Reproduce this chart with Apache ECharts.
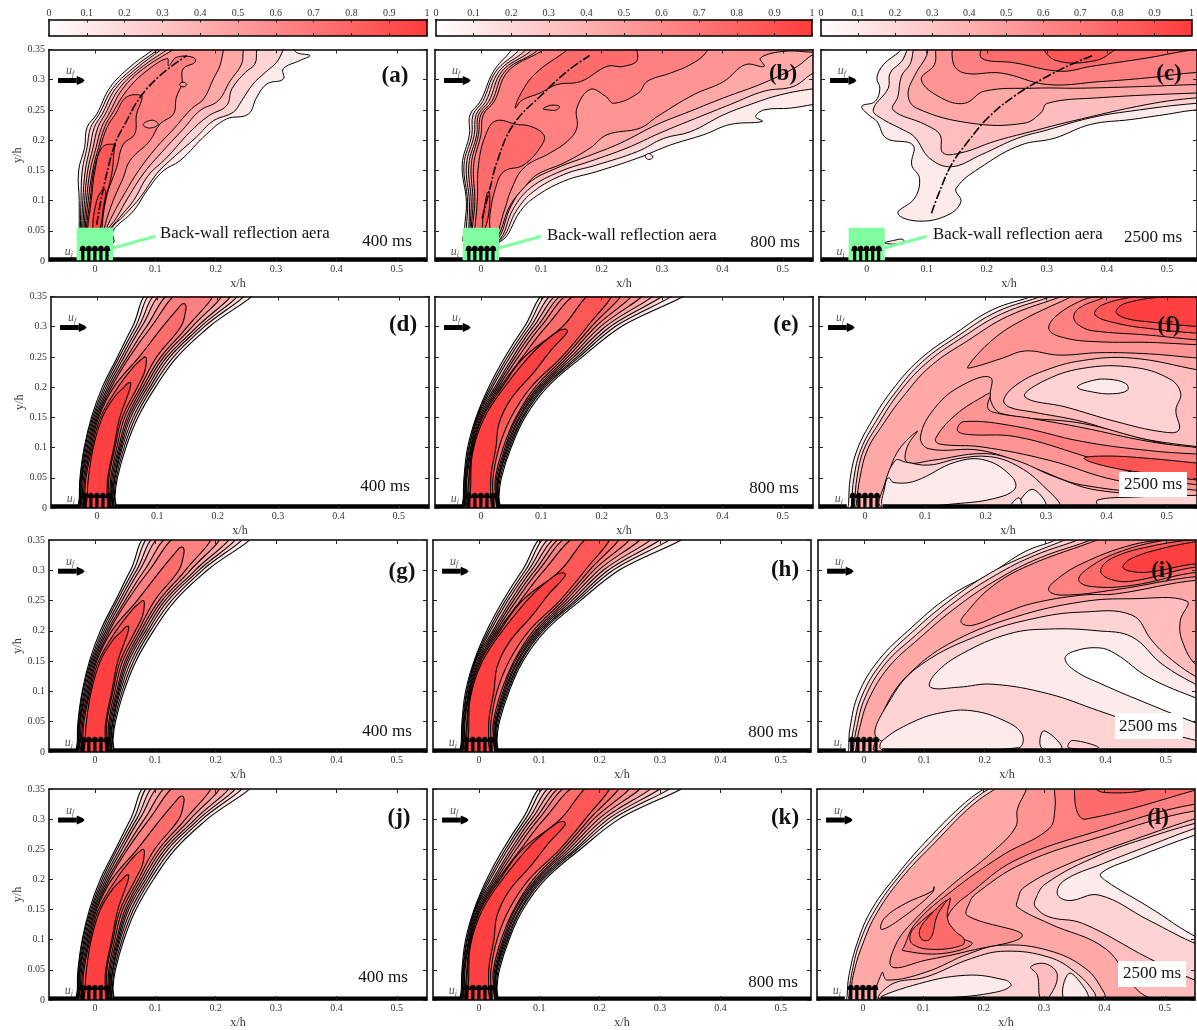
<!DOCTYPE html>
<html><head><meta charset="utf-8">
<style>html,body{margin:0;padding:0;background:#fff;overflow:hidden}#c{width:1197px;height:1030px}</style>
<script src="https://cdn.jsdelivr.net/npm/echarts@6/dist/echarts.min.js"></script>
</head><body><div id="c"></div>
<script>
// ---------- ticks ----------
const xTicks=[0,0.1,0.2,0.3,0.4,0.5];
const yTicks=[0,0.05,0.1,0.15,0.2,0.25,0.3,0.35];
const barTicks=[0,0.1,0.2,0.3,0.4,0.5,0.6,0.7,0.8,0.9,1];
const levelColors=['#ffffff','#fdeaea','#ffd3d3','#ffbdbd','#ffa8a8','#ff9494','#ff8080','#ff6c6c','#ff5656','#ff4040'];
const barStops=['#ffffff','#ff3c3c'];
// ---------- contours: [level, x,y, x,y ...] ----------
const contours400=[
[1,-.029,-.02,-.029,.02,-.028,.05,-.021,.1,-.009,.15,.009,.2,.034,.25,.059,.3,.092,.36,.258,.36,.186,.3,.133,.25,.097,.2,.068,.15,.048,.1,.034,.05,.030,.02,.030,-.02],
[2,-.028,-.02,-.028,.02,-.027,.05,-.020,.1,-.007,.15,.012,.2,.037,.25,.064,.3,.098,.36,.245,.36,.178,.3,.127,.25,.092,.2,.064,.15,.045,.1,.032,.05,.029,.02,.029,-.02],
[3,-.027,-.02,-.027,.02,-.026,.05,-.018,.1,-.005,.15,.015,.2,.041,.25,.069,.3,.107,.36,.234,.36,.172,.3,.121,.25,.088,.2,.060,.15,.042,.1,.030,.05,.027,.02,.027,-.02],
[4,-.026,-.02,-.026,.02,-.025,.05,-.016,.1,-.003,.15,.018,.2,.045,.25,.074,.3,.116,.36,.223,.36,.166,.3,.116,.25,.084,.2,.056,.15,.040,.1,.029,.05,.026,.02,.026,-.02],
[5,-.025,-.02,-.025,.02,-.024,.05,-.014,.1,-.001,.15,.021,.2,.050,.25,.082,.3,.128,.36,.208,.36,.158,.3,.111,.25,.080,.2,.053,.15,.038,.1,.027,.05,.025,.02,.025,-.02],
[6,-.024,-.02,-.024,.02,-.022,.05,-.012,.1,.001,.15,.024,.2,.054,.25,.090,.3,.140,.36,.194,.36,.150,.3,.106,.25,.076,.2,.050,.15,.036,.1,.025,.05,.024,.02,.024,-.02],
[7,-.022,-.02,-.022,.02,-.020,.05,-.010,.1,.003,.15,.028,.2,.070,.25,.109,.3,.134,.33,.142,.338,.147,.336,.147,.326,.139,.3,.099,.25,.072,.2,.046,.15,.033,.1,.023,.05,.022,.02,.022,-.02],
[8,-.020,-.02,-.020,.02,-.018,.05,-.008,.1,.006,.15,.035,.2,.062,.235,.075,.247,.080,.25,.082,.245,.079,.225,.067,.2,.042,.15,.030,.1,.020,.05,.020,.02,.020,-.02],
[9,-.016,-.02,-.016,.02,-.014,.05,-.006,.1,.009,.15,.030,.185,.045,.2,.052,.207,.056,.207,.054,.195,.038,.15,.028,.1,.018,.05,.017,.02,.017,-.02]
];
const contours800=[
[1,-.029,-.02,-.029,.02,-.028,.05,-.022,.1,-.008,.15,.013,.2,.040,.25,.072,.3,.116,.36,.340,.36,.232,.3,.168,.25,.110,.2,.073,.15,.050,.1,.034,.05,.030,.02,.030,-.02],
[2,-.028,-.02,-.028,.02,-.027,.05,-.020,.1,-.007,.15,.016,.2,.044,.25,.077,.3,.122,.36,.320,.36,.222,.3,.163,.25,.106,.2,.070,.15,.048,.1,.032,.05,.029,.02,.029,-.02],
[3,-.027,-.02,-.027,.02,-.026,.05,-.019,.1,-.006,.15,.019,.2,.048,.25,.082,.3,.131,.36,.304,.36,.214,.3,.159,.25,.103,.2,.068,.15,.046,.1,.030,.05,.028,.02,.028,-.02],
[4,-.026,-.02,-.026,.02,-.025,.05,-.017,.1,-.005,.15,.023,.2,.053,.25,.087,.3,.140,.36,.288,.36,.206,.3,.154,.25,.100,.2,.065,.15,.044,.1,.029,.05,.027,.02,.027,-.02],
[5,-.025,-.02,-.025,.02,-.024,.05,-.016,.1,-.003,.15,.026,.2,.057,.25,.093,.3,.148,.36,.270,.36,.198,.3,.149,.25,.097,.2,.063,.15,.042,.1,.028,.05,.026,.02,.026,-.02],
[6,-.024,-.02,-.024,.02,-.023,.05,-.015,.1,-.001,.15,.029,.2,.062,.25,.099,.3,.156,.36,.252,.36,.190,.3,.144,.25,.094,.2,.060,.15,.040,.1,.026,.05,.025,.02,.025,-.02],
[7,-.022,-.02,-.022,.02,-.020,.05,-.014,.1,.001,.15,.032,.2,.069,.25,.108,.3,.168,.36,.234,.36,.183,.3,.139,.25,.090,.2,.058,.15,.037,.1,.024,.05,.024,.02,.024,-.02],
[8,-.020,-.02,-.020,.02,-.019,.05,-.013,.1,.003,.15,.035,.2,.072,.25,.135,.3,.186,.36,.220,.36,.176,.3,.134,.25,.083,.2,.050,.15,.030,.1,.020,.05,.020,.02,.020,-.02],
[9,-.018,-.02,-.018,.02,-.017,.035,-.014,.09,.005,.148,.039,.2,.088,.259,.127,.292,.140,.296,.143,.291,.116,.261,.088,.225,.050,.181,.030,.14,.025,.101,.017,.057,.016,.02,.016,-.02]
];
const contoursA=[
[1,-.026,.03,-.026,.055,-.026,.1,-.027,.149,-.017,.188,-.013,.221,.003,.243,.025,.287,.058,.321,.094,.348,.11,.36,.32,.36,.334,.345,.356,.34,.34,.332,.312,.318,.312,.301,.285,.293,.268,.271,.254,.243,.218,.235,.185,.21,.141,.166,.113,.149,.086,.116,.064,.083,.03,.05,.03,.03],
[2,-.024,.03,-.024,.055,-.023,.1,-.021,.149,-.013,.188,-.007,.221,.007,.243,.029,.285,.062,.318,.102,.348,.12,.36,.315,.36,.312,.35,.301,.329,.282,.312,.262,.293,.243,.265,.229,.246,.196,.232,.168,.205,.124,.166,.102,.144,.075,.105,.05,.077,.025,.05,.025,.03],
[3,-.022,.03,-.022,.055,-.02,.1,-.016,.149,-.008,.188,-.001,.221,.012,.243,.034,.285,.068,.318,.11,.35,.125,.36,.27,.36,.268,.35,.265,.326,.249,.312,.227,.285,.218,.257,.188,.24,.157,.213,.119,.171,.088,.141,.064,.1,.041,.072,.022,.047,.022,.03],
[4,-.02,.03,-.02,.055,-.017,.1,-.012,.149,-.003,.188,.005,.221,.017,.243,.04,.285,.074,.318,.12,.35,.135,.36,.25,.36,.246,.35,.243,.326,.224,.298,.204,.265,.174,.249,.146,.218,.108,.177,.08,.144,.055,.105,.036,.072,.019,.047,.019,.03],
[5,-.018,.03,-.018,.055,-.014,.1,-.008,.149,.002,.188,.011,.221,.023,.243,.046,.285,.08,.318,.13,.35,.145,.36,.215,.36,.213,.35,.207,.323,.196,.301,.18,.268,.16,.252,.13,.218,.102,.188,.072,.149,.05,.113,.03,.077,.017,.047,.017,.03],
[6,-.016,.03,-.016,.055,-.011,.1,-.004,.149,.006,.188,.016,.221,.028,.243,.055,.285,.09,.318,.12,.335,.122,.323,.135,.337,.163,.337,.166,.329,.146,.318,.144,.293,.135,.271,.13,.243,.108,.227,.091,.199,.058,.166,.047,.138,.028,.094,.014,.047,.014,.03],
[7,-.014,.03,-.014,.055,-.008,.1,-.002,.149,.009,.188,.02,.221,.034,.243,.052,.271,.077,.274,.077,.265,.069,.243,.066,.21,.047,.193,.036,.155,.019,.105,.011,.047,.011,.03],
[8,-.012,.03,-.012,.055,-.006,.1,0,.149,.012,.188,.033,.193,.032,.185,.028,.144,.017,.1,.008,.047,.008,.03],
[9,-.003,.05,.003,.1,.014,.119,.018,.116,.014,.088,.007,.05],
[5,.08,.226,.09,.22,.105,.226,.095,.233],
[5,.14,.292,.146,.288,.152,.292,.146,.296]
];
const contoursB=[
[1,-.027,.03,-.027,.054,-.024,.098,-.031,.159,-.019,.209,-.018,.242,-.001,.264,.021,.314,.049,.347,.057,.36,.565,.36,.565,.26,.551,.259,.513,.253,.469,.25,.455,.239,.466,.231,.413,.226,.369,.209,.314,.192,.259,.17,.192,.148,.137,.132,.087,.104,.065,.082,.032,.032],
[2,-.024,.03,-.024,.054,-.022,.098,-.028,.159,-.015,.209,-.013,.242,.003,.264,.025,.314,.061,.347,.068,.36,.565,.36,.565,.284,.551,.285,.496,.275,.446,.259,.402,.242,.347,.214,.303,.203,.259,.181,.192,.159,.137,.143,.087,.115,.06,.085,.029,.032],
[3,-.021,.03,-.02,.054,-.019,.098,-.024,.159,-.011,.209,-.008,.242,.008,.264,.03,.314,.072,.347,.08,.36,.565,.36,.565,.31,.551,.311,.518,.289,.469,.281,.413,.259,.358,.237,.297,.212,.242,.187,.181,.165,.131,.148,.082,.121,.054,.087,.027,.032],
[4,-.018,.03,-.018,.054,-.016,.098,-.02,.159,-.007,.209,-.004,.242,.013,.264,.035,.314,.082,.347,.09,.36,.565,.36,.565,.34,.551,.342,.524,.322,.469,.295,.402,.27,.347,.248,.292,.226,.231,.195,.176,.173,.126,.154,.079,.129,.051,.093,.024,.032],
[5,-.016,.03,-.016,.054,-.013,.098,-.016,.159,-.004,.209,0,.242,.018,.264,.04,.314,.092,.347,.1,.36,.565,.36,.565,.347,.502,.347,.463,.336,.469,.322,.438,.325,.402,.297,.352,.275,.292,.239,.264,.22,.209,.209,.181,.187,.137,.162,.093,.143,.073,.123,.049,.093,.021,.032],
[6,-.014,.03,-.014,.054,-.01,.098,-.012,.159,0,.209,.004,.242,.022,.264,.045,.314,.1,.347,.12,.36,.375,.36,.372,.344,.347,.325,.314,.311,.275,.297,.261,.278,.22,.261,.206,.273,.181,.284,.159,.253,.159,.22,.143,.198,.115,.179,.071,.154,.049,.115,.04,.087,.018,.032],
[7,.057,.253,.065,.275,.09,.31,.14,.347,.155,.36,.248,.36,.259,.333,.236,.322,.209,.322,.165,.297,.126,.292,.098,.278,.068,.266],
[7,-.012,.03,-.01,.054,-.006,.098,-.004,.159,.008,.209,.025,.232,.06,.226,.082,.223,.104,.209,.101,.192,.071,.159,.038,.148,.024,.12,.015,.076,.012,.03],
[8,.002,.054,.01,.112,.014,.115,.014,.087,.007,.054],
[1,.272,.173,.278,.178,.285,.172,.278,.168],
[6,.103,.252,.113,.257,.12,.258,.13,.256,.125,.25,.112,.25]
];
const contoursC=[
[1,.064,.36,.055,.347,.028,.325,.017,.303,.022,.286,.014,.264,-.008,.256,.003,.242,.017,.231,.033,.203,.077,.192,.075,.159,.088,.137,.08,.104,.052,.079,.086,.066,.135,.076,.157,.098,.149,.12,.196,.159,.257,.192,.312,.203,.373,.226,.439,.234,.495,.242,.55,.25,.6,.25,.6,.36],
[2,.08,.36,.058,.33,.039,.311,.036,.286,.011,.25,.028,.234,.061,.217,.08,.205,.105,.17,.141,.156,.191,.176,.251,.203,.301,.217,.373,.237,.439,.248,.55,.261,.6,.261,.6,.36],
[3,.088,.36,.072,.325,.058,.306,.052,.272,.044,.25,.097,.226,.122,.209,.127,.179,.157,.179,.213,.198,.273,.214,.34,.231,.467,.259,.55,.27,.6,.27,.6,.36],
[4,.105,.36,.1,.34,.08,.307,.069,.275,.083,.253,.174,.228,.262,.228,.29,.245,.301,.261,.384,.27,.55,.278,.6,.278,.6,.36],
[5,.122,.36,.113,.325,.091,.3,.124,.27,.163,.261,.196,.281,.279,.286,.356,.286,.467,.289,.55,.292,.6,.292,.6,.36],
[6,.152,.36,.144,.328,.163,.311,.224,.311,.301,.292,.39,.297,.467,.303,.55,.312,.6,.312,.6,.36],
[7,.202,.36,.191,.336,.246,.328,.323,.314,.373,.322,.467,.336,.55,.35,.6,.35,.6,.36],
[8,.296,.36,.312,.333,.378,.331,.414,.35,.42,.36],
[1,.03,.03,.045,.034,.06,.036,.062,.031,.045,.028]
];
const contoursF=[
[1,-.027,-.01,-.027,.007,-.024,.051,-.013,.096,.012,.145,.045,.195,.09,.245,.15,.289,.211,.328,.283,.353,.31,.37,.6,.37,.6,-.01],
[2,-.022,-.01,-.022,.007,-.018,.051,-.007,.096,.018,.143,.051,.192,.095,.242,.156,.286,.219,.325,.299,.353,.33,.37,.6,.37,.6,-.01],
[3,-.017,-.01,-.017,.007,-.013,.051,-.002,.096,.023,.14,.056,.19,.101,.239,.164,.284,.228,.322,.316,.353,.35,.37,.6,.37,.6,-.01],
[4,-.014,-.01,-.014,.007,-.008,.051,.004,.096,.029,.137,.063,.184,.109,.235,.172,.278,.236,.317,.333,.353,.37,.37,.6,.37,.6,-.01],
[5,.17,.233,.211,.278,.261,.311,.349,.353,.38,.37,.6,.37,.6,.246,.554,.248,.471,.255,.388,.257,.322,.253,.266,.26,.228,.248,.183,.234],
[6,.305,.295,.316,.317,.36,.344,.393,.353,.42,.37,.6,.37,.6,.268,.554,.27,.471,.274,.388,.275,.333,.281],
[7,.346,.314,.355,.331,.399,.35,.43,.37,.6,.37,.6,.277,.554,.278,.471,.286,.388,.292,.362,.298],
[8,.381,.32,.393,.336,.454,.353,.49,.37,.6,.37,.6,.288,.554,.289,.471,.297,.416,.306],
[9,.416,.325,.432,.339,.504,.35,.6,.352,.6,.298,.554,.3,.471,.308,.432,.314],
[3,.23,.179,.25,.203,.294,.226,.36,.244,.443,.248,.554,.228,.6,.22,.6,.098,.554,.101,.443,.118,.36,.143,.277,.159,.239,.167],
[2,.265,.184,.294,.209,.36,.231,.443,.233,.504,.214,.523,.19,.515,.162,.52,.129,.493,.126,.416,.143,.333,.167],
[1,.352,.2,.377,.211,.404,.213,.432,.206,.435,.195,.41,.189,.377,.192],
[4,.208,.216,.161,.203,.117,.167,.092,.118,.106,.098,.194,.095,.283,.065,.36,.038,.554,.018,.6,.015,.6,.094,.554,.096,.471,.112,.36,.14,.227,.156,.208,.179],
[5,.117,.115,.15,.154,.2,.187,.208,.189,.203,.168,.211,.159,.277,.148,.36,.133,.471,.11,.554,.1,.6,.098,.6,.027,.554,.029,.416,.046,.305,.079,.194,.101,.123,.106],
[6,.153,.129,.164,.143,.25,.135,.36,.11,.471,.095,.554,.089,.6,.087,.6,.036,.554,.038,.471,.051,.36,.087,.25,.118,.167,.122],
[8,.363,.082,.399,.086,.471,.082,.554,.074,.6,.07,.6,.044,.554,.046,.471,.057,.404,.068],
[3,.026,-.004,.026,.013,.037,.051,.056,.096,.087,.127,.07,.101,.07,.076,.112,.079,.194,.09,.25,.079,.316,.051,.388,.029,.554,.018,.6,.016,.6,-.004],
[2,.029,.002,.033,.04,.051,.079,.067,.076,.106,.071,.156,.082,.206,.085,.25,.071,.294,.038,.319,.002],
[1,.031,.002,.033,.035,.039,.05,.048,.042,.084,.045,.15,.076,.2,.079,.244,.051,.248,.031,.211,.015,.15,.007,.084,.002],
[1,.255,.002,.277,.031,.3,.002],
[1,.241,.002,.255,.017,.259,.002],
[2,.385,.013,.443,.018,.554,.021,.6,.021,.6,.002,.39,.002]
];
const contoursI=[
[1,-.025,-.01,-.025,.007,-.023,.04,-.009,.096,.024,.151,.074,.201,.14,.256,.21,.295,.267,.331,.317,.35,.35,.37,.6,.37,.6,-.01],
[2,-.021,-.01,-.021,.007,-.017,.04,-.003,.093,.03,.148,.08,.198,.146,.253,.212,.297,.278,.328,.339,.353,.37,.37,.6,.37,.6,-.01],
[3,-.017,-.01,-.017,.007,-.012,.04,.002,.09,.035,.145,.085,.192,.151,.248,.218,.292,.284,.325,.361,.353,.39,.37,.6,.37,.6,-.01],
[4,-.013,-.01,-.013,.007,-.007,.04,.008,.087,.041,.14,.091,.187,.157,.242,.223,.286,.29,.32,.383,.353,.41,.37,.6,.37,.6,-.01],
[5,.161,.214,.168,.228,.212,.273,.273,.308,.394,.353,.43,.37,.6,.37,.6,.278,.555,.284,.417,.261,.361,.259,.278,.245,.229,.228,.179,.209],
[6,.306,.267,.317,.283,.361,.311,.444,.342,.516,.353,.6,.37,.6,.285,.555,.29,.417,.268,.328,.259],
[7,.356,.283,.367,.3,.417,.328,.5,.35,.6,.36,.6,.29,.555,.297,.444,.275,.378,.273],
[8,.392,.3,.411,.32,.472,.339,.555,.352,.6,.355,.6,.3,.555,.306,.444,.282,.406,.286],
[9,.429,.306,.444,.32,.494,.336,.555,.348,.6,.352,.6,.305,.555,.311,.472,.297,.439,.299],
[3,.022,.024,.038,.079,.08,.134,.151,.184,.251,.223,.361,.248,.444,.253,.535,.249,.524,.217,.527,.184,.552,.142,.6,.12,.6,.0015,.555,.0015,.019,.002],
[2,.024,.021,.046,.09,.096,.145,.196,.195,.28,.22,.361,.231,.444,.226,.477,.184,.505,.156,.552,.123,.6,.1,.6,.002,.19,.002],
[1,.11,.107,.118,.129,.162,.162,.24,.195,.306,.203,.388,.2,.444,.19,.494,.145,.555,.109,.6,.09,.6,.01,.555,.018,.472,.04,.389,.068,.306,.096,.212,.112,.157,.107],
[0,.333,.154,.347,.166,.389,.172,.417,.162,.472,.123,.555,.087,.6,.07,.6,.03,.555,.046,.472,.079,.394,.112,.35,.134],
[1,.03,.018,.08,.049,.129,.065,.179,.068,.234,.051,.262,.029,.256,.007,.03,.004],
[1,.294,.007,.298,.035,.328,.007],
[2,.339,.007,.345,.019,.389,.007]
];
const contoursL=[
[1,-.026,-.01,-.026,.008,-.023,.041,-.009,.096,.015,.151,.06,.212,.109,.268,.17,.328,.209,.356,.23,.37,.6,.37,.6,-.01],
[2,-.023,-.01,-.023,.008,-.019,.041,-.006,.093,.02,.149,.064,.21,.115,.265,.176,.326,.217,.356,.24,.37,.6,.37,.6,-.01],
[4,-.02,-.01,-.02,.008,-.016,.041,-.001,.091,.024,.146,.068,.207,.12,.262,.181,.323,.228,.356,.25,.37,.6,.37,.6,-.01],
[4,.031,.117,.035,.135,.07,.16,.114,.18,.118,.188,.115,.178,.07,.14],
[5,.272,.37,.272,.353,.256,.317,.253,.287,.214,.245,.143,.187,.082,.129,.054,.091,.048,.055,.104,.066,.17,.08,.264,.107,.173,.14,.176,.16,.187,.176,.264,.226,.391,.27,.557,.315,.6,.305,.6,.37],
[6,.317,.37,.317,.353,.318,.317,.308,.284,.231,.24,.145,.179,.087,.127,.068,.088,.066,.082,.131,.077,.181,.093,.154,.107,.14,.129,.148,.151,.176,.176,.253,.232,.391,.281,.557,.326,.6,.315,.6,.37],
[7,.145,.169,.14,.135,.154,.113,.167,.102,.165,.091,.115,.084,.082,.093,.079,.11,.093,.127,.143,.168],
[8,.138,.165,.123,.14,.112,.102,.098,.1,.094,.116,.109,.138],
[7,.35,.37,.35,.353,.355,.312,.369,.3,.557,.35,.6,.365,.6,.37],
[8,.383,.37,.383,.353,.402,.344,.474,.35,.5,.37],
[3,.256,.165,.267,.187,.341,.226,.446,.265,.557,.303,.6,.315,.6,.002,.485,.002,.452,.019,.402,.085,.308,.127,.256,.154],
[2,.285,.165,.303,.193,.391,.24,.474,.27,.557,.295,.6,.305,.6,.018,.557,.03,.474,.069,.364,.127,.308,.138,.286,.154],
[1,.322,.176,.333,.198,.397,.226,.474,.256,.557,.287,.6,.298,.6,.08,.557,.091,.474,.132,.391,.174,.341,.165],
[0,.394,.21,.446,.234,.557,.276,.6,.287,.6,.09,.557,.102,.474,.154,.402,.198],
[3,.027,.002,.032,.046,.04,.033,.104,.046,.176,.077,.231,.091,.308,.082,.369,.052,.399,.013,.399,.002],
[2,.029,.002,.049,.027,.104,.038,.18,.069,.236,.081,.308,.071,.352,.046,.383,.013,.383,.002],
[1,.029,.002,.082,.024,.17,.041,.236,.033,.245,.024,.22,.013,.143,.004],
[3,.278,.055,.303,.06,.322,.041,.306,.002,.294,.002,.289,.041],
[1,.333,.002,.341,.044,.364,.024,.372,.002]
];
// ---------- dash-dot trajectories of panels a, b, c ----------
const trajA=[[.003,.06],[.014,.12],[.033,.193],[.05,.227],[.075,.271],[.108,.307],[.152,.34]];
const trajB=[[.002,.07],[.015,.12],[.027,.165],[.054,.226],[.104,.278],[.143,.314],[.18,.34]];
const trajC=[[.108,.079],[.119,.109],[.141,.159],[.169,.198],[.202,.237],[.246,.273],[.296,.303],[.34,.325],[.376,.34]];
// ---------- apparatus ----------
const nozzleX=[-.02,-.01,0,.01,.02];
const floorSpans=[[-.076,-.03],[.03,.55]];

const SERIF='"Liberation Serif","Times New Roman",serif';
const panels=[
 {c:contoursA,t:trajA,left:49,top:49.5,h:211.5,wall:1,ylab:1},
 {c:contoursB,t:trajB,left:435,top:49.5,h:211.5,wall:1},
 {c:contoursC,t:trajC,left:821,top:49.5,h:211.5,wall:1},
 {c:contours400,jet:1,left:51,top:296.5,h:211.5,ylab:1},
 {c:contours800,jet:1,left:435,top:296.5,h:211.5},
 {c:contoursF,left:819,top:296.5,h:211.5},
 {c:contours400,jet:1,left:49,top:540,h:212,ylab:1},
 {c:contours800,jet:1,left:433,top:540,h:212},
 {c:contoursI,left:818,top:540,h:212},
 {c:contours400,jet:1,left:49,top:789,h:211,ylab:1},
 {c:contours800,jet:1,left:433,top:789,h:211},
 {c:contoursL,left:817,top:789,h:211}
];
const pW=378;
const grid=[],xAxis=[],yAxis=[],series=[];
const axisText={color:'#333',fontFamily:SERIF,fontSize:10};

function toPts(flat,coord){const p=[];for(let i=1;i<flat.length;i+=2)p.push(coord([flat[i],flat[i+1]]));return p;}

panels.forEach((P,i)=>{
 grid.push({left:P.left,top:P.top,width:pW,height:P.h});
 const base={min:-.076,max:.55,type:'value',gridIndex:i,z:6,splitLine:{show:false}};
 const line={show:true,onZero:false,lineStyle:{color:'#000',width:1.5}};
 const xi=xAxis.length,yi=yAxis.length;
 xAxis.push({...base,position:'bottom',axisLine:line,
  axisTick:{inside:true,length:4,customValues:xTicks,lineStyle:{color:'#222'}},
  axisLabel:{...axisText,margin:3,customValues:xTicks,formatter:v=>String(v)},
  name:'x/h',nameLocation:'middle',nameGap:17,nameTextStyle:{color:'#333',fontFamily:SERIF,fontSize:12}});
 xAxis.push({...base,position:'top',axisLine:line,axisLabel:{show:false},
  axisTick:{inside:true,length:4,customValues:xTicks,lineStyle:{color:'#222'}}});
 const yb={min:0,max:.35,type:'value',gridIndex:i,z:6,splitLine:{show:false}};
 yAxis.push({...yb,position:'left',axisLine:line,
  axisTick:{inside:true,length:4,customValues:yTicks,lineStyle:{color:'#222'}},
  axisLabel:{...axisText,show:!!P.ylab,margin:4,customValues:yTicks,formatter:v=>String(v)},
  name:P.ylab?'y/h':'',nameLocation:'middle',nameGap:24,nameTextStyle:{color:'#333',fontFamily:SERIF,fontSize:12}});
 yAxis.push({...yb,position:'right',axisLine:line,axisLabel:{show:false},
  axisTick:{inside:true,length:4,customValues:yTicks,lineStyle:{color:'#222'}}});
 series.push({type:'custom',xAxisIndex:xi,yAxisIndex:yi,clip:true,z:2,silent:true,
  data:P.c.map(f=>[f[1],f[2]]),encode:{x:0,y:1},
  renderItem:(params,api)=>{const f=P.c[params.dataIndex];
   return {type:'polygon',shape:{points:toPts(f,api.coord),smooth:.4},
    style:{fill:levelColors[f[0]],stroke:'#000',lineWidth:P.jet?1.1:1}};}});
 if(P.t)series.push({type:'line',xAxisIndex:xi,yAxisIndex:yi,z:3,silent:true,data:P.t,showSymbol:false,smooth:.4,
   lineStyle:{color:'#000',width:1.6,type:[9,2,2,2]}});
 series.push({type:'custom',xAxisIndex:xi,yAxisIndex:yi,z:4,silent:true,clip:true,data:[[0,0]],encode:{x:0,y:1},
  renderItem:(params,api)=>{
   const c=api.coord,ch=[];
   const rect=(x0,y0,x1,y1,fill)=>{const a=c([x0,y1]),b=c([x1,y0]);
     ch.push({type:'rect',shape:{x:a[0],y:a[1],width:b[0]-a[0],height:b[1]-a[1]},style:{fill}});};
   floorSpans.forEach(s=>rect(s[0],0,s[1],.006,'#000'));
   if(P.wall){
     rect(-.03,0,.03,.055,'#7fff9f');
     const a=c([.03,.0215]),b=c([.1,.041]);
     ch.push({type:'line',shape:{x1:a[0],y1:a[1],x2:b[0],y2:b[1]},style:{stroke:'#7fff9f',lineWidth:3}});
   }
   nozzleX.forEach(x=>{
     const a=c([x,0]),t=c([x,.0255]),m=c([x,.019]);
     ch.push({type:'rect',shape:{x:a[0]-1.6,y:m[1],width:3.2,height:a[1]-m[1]},style:{fill:'#000'}});
     ch.push({type:'polygon',shape:{points:[[a[0]-3.4,m[1]+1.5],[a[0]-2.4,t[1]+1.2],[a[0],t[1]],[a[0]+2.4,t[1]+1.2],[a[0]+3.4,m[1]+1.5]]},style:{fill:'#000'}});
   });
   const u0=c([-.061,.2985]),u1=c([-.03,.2985]),tip=c([-.017,.2985]);
   ch.push({type:'rect',shape:{x:u0[0],y:u0[1]-2.5,width:u1[0]-u0[0],height:5},style:{fill:'#000'}});
   ch.push({type:'polygon',shape:{points:[[u1[0],u0[1]-4.5],[tip[0]-2,u0[1]-2],[tip[0],u0[1]],[tip[0]-2,u0[1]+2],[u1[0],u0[1]+4.5]]},style:{fill:'#000'}});
   const uf=c([-.048,.314]),ui=c([-.05,.015]);
   const label=(pos,s,sub)=>{
     ch.push({type:'text',style:{text:s,x:pos[0],y:pos[1],fill:'#555',font:'italic 12px '+SERIF,textAlign:'left',textVerticalAlign:'middle'}});
     ch.push({type:'text',style:{text:sub,x:pos[0]+6,y:pos[1]+2.5,fill:'#555',font:'italic 8px '+SERIF,textAlign:'left',textVerticalAlign:'middle'}});
   };
   label(uf,'u','f');label(ui,'u','i');
   return {type:'group',children:ch};
  }});
});

// colour bars
[[49,378],[436,376],[821,378]].forEach(b=>{
 const gi=grid.length;
 grid.push({left:b[0],top:19.5,width:b[1],height:16.5});
 const base={type:'value',min:0,max:1,gridIndex:gi,z:6,splitLine:{show:false}};
 const line={show:true,onZero:false,lineStyle:{color:'#000',width:1.5}};
 const xi=xAxis.length,yi=yAxis.length;
 xAxis.push({...base,position:'top',axisLine:line,axisTick:{inside:true,length:3,customValues:barTicks,lineStyle:{color:'#222'}},
   axisLabel:{...axisText,margin:1,customValues:barTicks,formatter:v=>String(v)}});
 xAxis.push({...base,position:'bottom',axisLine:line,axisLabel:{show:false},axisTick:{inside:true,length:3,customValues:barTicks,lineStyle:{color:'#222'}}});
 yAxis.push({...base,position:'left',axisLine:line,axisTick:{show:false},axisLabel:{show:false}});
 yAxis.push({...base,position:'right',axisLine:line,axisTick:{show:false},axisLabel:{show:false}});
 series.push({type:'custom',xAxisIndex:xi,yAxisIndex:yi,z:2,silent:true,data:[[0,0]],encode:{x:0,y:1},
  renderItem:(params,api)=>{const a=api.coord([0,1]),e=api.coord([1,0]);
   return {type:'rect',shape:{x:a[0],y:a[1],width:e[0]-a[0],height:e[1]-a[1]},
    style:{fill:new echarts.graphic.LinearGradient(0,0,1,0,[{offset:0,color:barStops[0]},{offset:1,color:barStops[1]}])}};}});
});

// text annotations
const g=[];
const txt=(x,y,text,font,align)=>g.push({type:'text',z:100,x,y,style:{text,font,fill:'#111',textAlign:align||'center',textVerticalAlign:'middle'}});
[['(a)',395,76],['(b)',783,74],['(c)',1169,74],['(d)',403,325],['(e)',786,325],['(f)',1169,326],
 ['(g)',402,572],['(h)',785,570],['(i)',1162,571],['(j)',399,818],['(k)',785,818],['(l)',1158,818]]
 .forEach(a=>txt(a[1],a[2],a[0],'bold 23px '+SERIF));
[[1119,472,68,25],[1115,713,68,26],[1118,961,68,26]].forEach(r=>g.push({type:'rect',z:99,shape:{x:r[0],y:r[1],width:r[2],height:r[3]},style:{fill:'#fff'}}));
[['400 ms',387,242],['800 ms',775,243],['2500 ms',1153,238],['400 ms',385,487],['800 ms',774,489],['2500 ms',1153,485],
 ['400 ms',387,732],['800 ms',773,733],['2500 ms',1148,727],['400 ms',383,978],['800 ms',773,983],['2500 ms',1152,974]]
 .forEach(a=>txt(a[1],a[2],a[0],'17px '+SERIF));
[[160,234],[547,236],[933,235]].forEach(a=>txt(a[0],a[1],'Back-wall reflection aera','16.8px '+SERIF,'left'));

const chart=echarts.init(document.getElementById('c'),null,{renderer:'canvas',width:1197,height:1030});
chart.setOption({animation:false,backgroundColor:'#fff',grid,xAxis,yAxis,series,graphic:{elements:g}});
</script></body></html>
